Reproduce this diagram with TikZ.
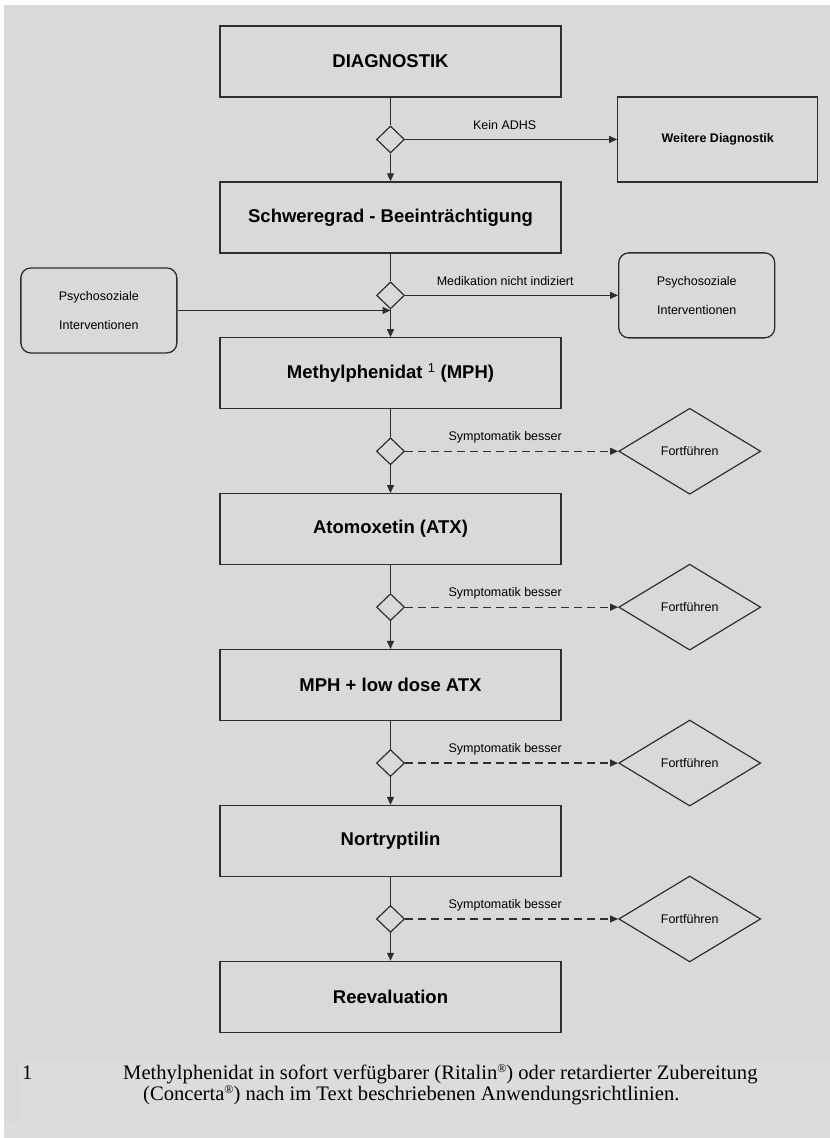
\documentclass[tikz,border=0pt]{standalone}
\usepackage{fontspec}
\setmainfont{Liberation Serif}
\setsansfont{Liberation Sans}
\usetikzlibrary{positioning,shapes.geometric,arrows.meta}
\definecolor{pagegray}{HTML}{D9D9D9}
\definecolor{notegray}{HTML}{DCDCDD}
\definecolor{linegray}{HTML}{2E2E2E}
\newcommand{\regmark}{\raisebox{0.3em}{\fontsize{12}{12}\selectfont ®}}

\begin{document}
\begin{tikzpicture}[
      x=1pt, y=-1pt,
      node distance=27.7pt, % gap between boxes and gates
      block/.style={rectangle, draw=linegray, line width=1.3pt, text centered, minimum width=341pt, minimum height=71pt, font=\sffamily\bfseries\fontsize{18.5}{22}\selectfont},
      sidebox/.style={rectangle, draw=linegray, line width=1.3pt, minimum width=200pt, minimum height=85pt, font=\sffamily\bfseries\fontsize{12.5}{15}\selectfont},
      softbox/.style={rectangle, rounded corners=10pt, draw=linegray, line width=1.3pt, align=center, minimum width=156pt, minimum height=85pt, font=\sffamily\fontsize{12.5}{28.5}\selectfont},
      gate/.style={diamond, draw=linegray, line width=1.2pt, inner sep=0pt, minimum width=28pt, minimum height=27pt},
      goal/.style={diamond, draw=linegray, line width=1.2pt, inner sep=0pt, minimum width=142pt, minimum height=86pt, font=\sffamily\fontsize{12.5}{15}\selectfont},
      flow/.style={draw=linegray, line width=1.2pt, -{Triangle[length=8pt, width=7pt]}},
      lbl/.style={pos=0.47, yshift=14pt, font=\sffamily\fontsize{12.5}{15}\selectfont},
      note/.style={anchor=base west, inner sep=0pt, font=\fontsize{20.6}{21}\selectfont}
  ]
      % Page background
      \fill[white] (0,0) rectangle (830,1138);
      \fill[pagegray] (4,5) rectangle (830,1138);
      \fill[notegray] (19,1061) rectangle (830,1138);
      \fill[notegray] (4,1122) rectangle (19,1138);

      % Main column
      \node (diag) [block] at (390.5,61.5) {DIAGNOSTIK};
      \node (gate1) [gate, below=of diag] {};
      \node (sev) [block, below=of gate1] {Schweregrad - Beeinträchtigung};
      \node (gate2) [gate, below=of sev] {};
      \node (mph) [block, below=of gate2] {Methylphenidat \textsuperscript{\mdseries 1} (MPH)};
      \node (gate3) [gate, below=of mph] {};
      \node (atx) [block, below=of gate3] {Atomoxetin (ATX)};
      \node (gate4) [gate, below=of atx] {};
      \node (combo) [block, below=of gate4] {MPH + low dose ATX};
      \node (gate5) [gate, below=of combo] {};
      \node (ntp) [block, below=of gate5] {Nortryptilin};
      \node (gate6) [gate, below=of ntp] {};
      \node (reeval) [block, below=of gate6] {Reevaluation};

      % Side branches
      \node (further) [sidebox, right=212pt of gate1] {Weitere Diagnostik};
      \node (psyR) [softbox, right=213pt of gate2] {Psychosoziale\\Interventionen};
      \coordinate [below=1pt of gate2] (join);
      \node (psyL) [softbox, left=213pt of join] {Psychosoziale\\Interventionen};
      \node (keep1) [goal, right=213pt of gate3] {Fortführen};
      \node (keep2) [goal, right=213pt of gate4] {Fortführen};
      \node (keep3) [goal, right=213pt of gate5] {Fortführen};
      \node (keep4) [goal, right=213pt of gate6] {Fortführen};

      % Connections down the column
      \draw[draw=linegray, line width=1.2pt] (diag) -- (gate1);
      \draw[flow] (gate1) -- (sev);
      \draw[draw=linegray, line width=1.2pt] (sev) -- (gate2);
      \draw[flow] (gate2) -- (mph);
      \draw[draw=linegray, line width=1.2pt] (mph) -- (gate3);
      \draw[flow] (gate3) -- (atx);
      \draw[draw=linegray, line width=1.2pt] (atx) -- (gate4);
      \draw[flow] (gate4) -- (combo);
      \draw[draw=linegray, line width=1.2pt] (combo) -- (gate5);
      \draw[flow] (gate5) -- (ntp);
      \draw[draw=linegray, line width=1.2pt] (ntp) -- (gate6);
      \draw[flow] (gate6) -- (reeval);

      % Connections to the side
      \draw[flow] (gate1) -- node[lbl] {Kein ADHS} (further);
      \draw[flow] (gate2) -- node[lbl] {Medikation nicht indiziert} (psyR);
      \draw[flow] (psyL) -- (join);
      \draw[flow, dash pattern=on 8pt off 5pt] (gate3) -- node[lbl] {Symptomatik besser} (keep1);
      \draw[flow, dash pattern=on 8pt off 5pt] (gate4) -- node[lbl] {Symptomatik besser} (keep2);
      \draw[flow, dash pattern=on 8pt off 5pt] (gate5) -- node[lbl] {Symptomatik besser} (keep3);
      \draw[flow, dash pattern=on 8pt off 5pt] (gate6) -- node[lbl] {Symptomatik besser} (keep4);

      % Footnote
      \node (fnmark) [note] at (22,1079) {1};
      \node (fnline1) [note] at (123,1079) {Methylphenidat in sofort verfügbarer (Ritalin\regmark) oder retardierter Zubereitung};
      \node (fnline2) [note] at (143,1100) {(Concerta\regmark) nach im Text beschriebenen Anwendungsrichtlinien.};
  \end{tikzpicture}
\end{document}
